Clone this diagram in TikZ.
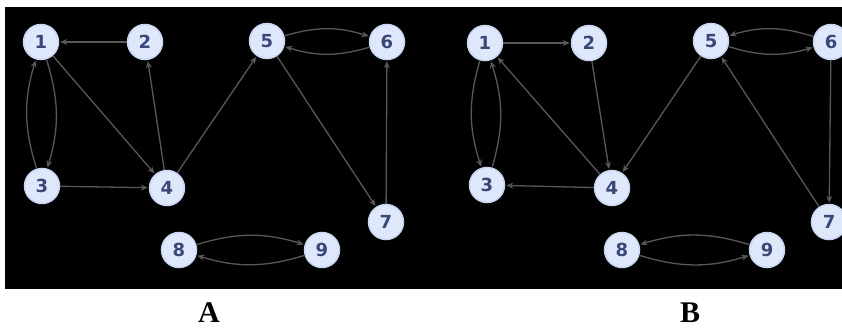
\documentclass[tikz,border=0pt]{standalone}
\usepackage{fontspec}
\setmainfont{Liberation Serif}
\newfontfamily\numfont{DejaVu Sans}
\usetikzlibrary{arrows.meta}
\definecolor{nodefill}{HTML}{DFE8FB}
\definecolor{nodeglow}{HTML}{C9D6F2}
\definecolor{numcol}{HTML}{3A4878}
\definecolor{edgecol}{HTML}{585858}
\tikzset{
  vtx/.style={circle, fill=nodefill, draw=nodeglow, line width=1.5pt,
    minimum size=35pt, inner sep=0pt, text=numcol,
    font=\numfont\bfseries\fontsize{18}{18}\selectfont},
  arc/.style={draw=edgecol, line width=1.3pt,
    -{Stealth[length=7pt,width=6pt]}, shorten >=1pt},
  caption/.style={font=\bfseries\fontsize{30}{30}\selectfont, text=black,
    inner sep=0pt, anchor=base}
}
\begin{document}
\begin{tikzpicture}[x=1pt,y=-1pt]
  \useasboundingbox (0,0) rectangle (842,329);
  \fill[white] (0,0) rectangle (842,329);
  \fill[black] (5,7) rectangle (842,289);
  \clip (0,0) rectangle (842,329);

  % ---- graph A ----
  \node[vtx] (a1) at (41,42)  {1};
  \node[vtx] (a2) at (145,42) {2};
  \node[vtx] (a5) at (267,41) {5};
  \node[vtx] (a6) at (387,42) {6};
  \node[vtx] (a3) at (42,186) {3};
  \node[vtx] (a4) at (167,188) {4};
  \node[vtx] (a7) at (386,222) {7};
  \node[vtx] (a8) at (179,250) {8};
  \node[vtx] (a9) at (322,250) {9};

  \draw[arc] (a2) -- (a1);
  \draw[arc] (a3) to[bend left=17] (a1);
  \draw[arc] (a1) to[bend left=17] (a3);
  \draw[arc] (a1) -- (a4);
  \draw[arc] (a4) -- (a2);
  \draw[arc] (a3) -- (a4);
  \draw[arc] (a4) -- (a5);
  \draw[arc] (a5) to[bend left=17] (a6);
  \draw[arc] (a6) to[bend left=17] (a5);
  \draw[arc] (a5) -- (a7);
  \draw[arc] (a7) -- (a6);
  \draw[arc] (a8) to[bend left=17] (a9);
  \draw[arc] (a9) to[bend left=17] (a8);

  % ---- graph B ----
  \node[vtx] (b1) at (485,43) {1};
  \node[vtx] (b2) at (589,43) {2};
  \node[vtx] (b5) at (711,41) {5};
  \node[vtx] (b6) at (831,42) {6};
  \node[vtx] (b3) at (487,185) {3};
  \node[vtx] (b4) at (612,188) {4};
  \node[vtx] (b7) at (829,222) {7};
  \node[vtx] (b8) at (622,250) {8};
  \node[vtx] (b9) at (767,250) {9};

  \draw[arc] (b1) -- (b2);
  \draw[arc] (b1) to[bend right=17] (b3);
  \draw[arc] (b3) to[bend right=17] (b1);
  \draw[arc] (b4) -- (b1);
  \draw[arc] (b2) -- (b4);
  \draw[arc] (b4) -- (b3);
  \draw[arc] (b5) -- (b4);
  \draw[arc] (b6) to[bend right=17] (b5);
  \draw[arc] (b5) to[bend right=17] (b6);
  \draw[arc] (b7) -- (b5);
  \draw[arc] (b6) -- (b7);
  \draw[arc] (b9) to[bend right=17] (b8);
  \draw[arc] (b8) to[bend right=17] (b9);

  % ---- captions ----
  \node[caption] (capA) at (209,322) {A};
  \node[caption] (capB) at (690,322) {B};
\end{tikzpicture}
\end{document}
